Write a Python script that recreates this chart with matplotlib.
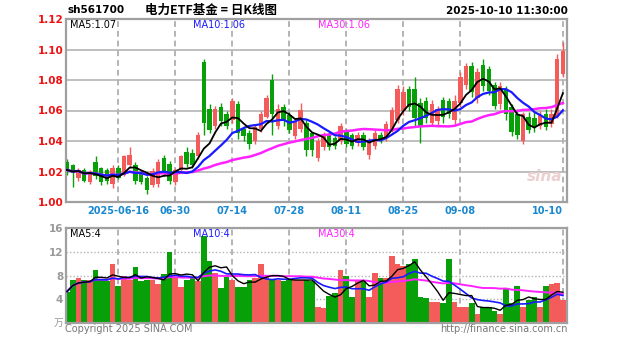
import matplotlib
matplotlib.use("Agg")
import matplotlib.pyplot as plt
import numpy as np
import pandas as pd

plt.rcParams['font.family'] = ['DejaVu Sans']

# ---------------- data ----------------
opens = [1.026, 1.024, 1.016, 1.021, 1.013, 1.026, 1.022, 1.021, 1.012, 1.022,
         1.018, 1.024, 1.024, 1.020, 1.016, 1.011, 1.012, 1.029, 1.025, 1.013,
         1.021, 1.033, 1.032, 1.030, 1.092, 1.061, 1.050, 1.062, 1.058, 1.054,
         1.064, 1.048, 1.045, 1.040, 1.048, 1.056, 1.080, 1.050, 1.062, 1.057,
         1.043, 1.048, 1.052, 1.045, 1.029, 1.036, 1.044, 1.042, 1.040, 1.046,
         1.044, 1.039, 1.044, 1.031, 1.037, 1.044, 1.042, 1.048, 1.054, 1.060,
         1.074, 1.074, 1.065, 1.066, 1.052, 1.053, 1.067, 1.066, 1.054, 1.065,
         1.077, 1.089, 1.068, 1.090, 1.087, 1.077, 1.064, 1.074, 1.062, 1.058,
         1.040, 1.056, 1.055, 1.050, 1.058, 1.051, 1.056, 1.084]
closes = [1.021, 1.019, 1.021, 1.014, 1.020, 1.017, 1.013, 1.014, 1.022, 1.016,
          1.030, 1.031, 1.014, 1.013, 1.008, 1.020, 1.026, 1.019, 1.014, 1.021,
          1.030, 1.025, 1.024, 1.044, 1.052, 1.047, 1.061, 1.053, 1.050, 1.066,
          1.045, 1.043, 1.038, 1.049, 1.058, 1.068, 1.058, 1.061, 1.053, 1.047,
          1.053, 1.060, 1.034, 1.034, 1.040, 1.044, 1.036, 1.037, 1.050, 1.038,
          1.037, 1.044, 1.036, 1.040, 1.045, 1.041, 1.051, 1.060, 1.074, 1.072,
          1.062, 1.055, 1.050, 1.055, 1.064, 1.061, 1.056, 1.058, 1.066, 1.082,
          1.089, 1.072, 1.085, 1.076, 1.073, 1.063, 1.076, 1.058, 1.046, 1.044,
          1.058, 1.047, 1.049, 1.057, 1.049, 1.058, 1.094, 1.099]
highs = [1.028, 1.025, 1.022, 1.022, 1.021, 1.030, 1.023, 1.022, 1.024, 1.024,
         1.031, 1.036, 1.026, 1.021, 1.017, 1.022, 1.028, 1.031, 1.027, 1.022,
         1.031, 1.036, 1.035, 1.046, 1.094, 1.064, 1.063, 1.065, 1.060, 1.068,
         1.066, 1.050, 1.047, 1.051, 1.060, 1.070, 1.084, 1.064, 1.064, 1.059,
         1.055, 1.065, 1.054, 1.046, 1.042, 1.046, 1.046, 1.043, 1.052, 1.048,
         1.045, 1.046, 1.046, 1.042, 1.047, 1.046, 1.053, 1.062, 1.077, 1.076,
         1.076, 1.082, 1.068, 1.069, 1.067, 1.063, 1.069, 1.068, 1.070, 1.085,
         1.091, 1.092, 1.088, 1.094, 1.089, 1.079, 1.079, 1.076, 1.064, 1.061,
         1.059, 1.059, 1.059, 1.060, 1.061, 1.061, 1.097, 1.105]
lows = [1.018, 1.010, 1.014, 1.013, 1.012, 1.015, 1.011, 1.012, 1.009, 1.015,
        1.017, 1.022, 1.012, 1.012, 1.005, 1.010, 1.010, 1.017, 1.012, 1.011,
        1.020, 1.023, 1.022, 1.028, 1.044, 1.045, 1.048, 1.050, 1.048, 1.052,
        1.041, 1.040, 1.035, 1.038, 1.046, 1.055, 1.044, 1.048, 1.050, 1.045,
        1.041, 1.046, 1.030, 1.030, 1.027, 1.034, 1.034, 1.035, 1.038, 1.036,
        1.035, 1.037, 1.034, 1.028, 1.035, 1.039, 1.040, 1.046, 1.052, 1.057,
        1.060, 1.050, 1.039, 1.052, 1.050, 1.050, 1.052, 1.055, 1.050, 1.062,
        1.074, 1.069, 1.065, 1.073, 1.070, 1.061, 1.061, 1.054, 1.043, 1.041,
        1.038, 1.045, 1.046, 1.048, 1.047, 1.049, 1.055, 1.082]
volumes = [5.3, 7.3, 7.6, 7.3, 7.3, 9.0, 7.3, 7.0, 9.9, 6.2,
           7.9, 7.3, 9.4, 7.0, 7.3, 7.3, 6.5, 8.2, 12.0, 7.6,
           6.1, 7.3, 7.6, 7.0, 14.6, 10.5, 8.5, 5.9, 7.7, 7.3,
           6.1, 6.1, 7.3, 7.6, 9.9, 7.8, 7.3, 7.3, 7.0, 7.3,
           7.3, 7.3, 7.3, 7.0, 2.7, 2.6, 4.5, 5.0, 9.0, 7.9,
           4.4, 7.3, 7.3, 4.4, 8.5, 7.6, 7.6, 11.3, 9.9, 9.6,
           9.9, 10.8, 4.4, 4.2, 3.6, 3.6, 3.3, 10.8, 3.6, 2.7,
           2.7, 3.3, 1.6, 2.7, 2.7, 2.1, 1.6, 5.9, 3.3, 6.2,
           2.7, 3.8, 4.4, 2.7, 6.2, 6.5, 6.7, 3.8]

tick_idx = [9, 19, 29, 39, 49, 59, 69, 87]
tick_labels = ["2025-06-16", "06-30", "07-14", "07-28", "08-11", "08-25", "09-08", "10-10"]
price_ticks = [1.00, 1.02, 1.04, 1.06, 1.08, 1.10, 1.12]
vol_ticks = [4, 8, 12, 16]

# ---------------- styling ----------------
RED = '#f45b5b'
GREEN = '#08a008'
GRID = '#b4b4b4'
FRAME = '#a0a0a0'
W, H = 627, 342

fig = plt.figure(figsize=(W / 100, H / 100), dpi=100)
fig.patch.set_facecolor('white')

def fx(px):
    return px / W

def fy(py):
    return 1 - py / H

ax = fig.add_axes([fx(66), fy(202), fx(567) - fx(66), fy(19) - fy(202)])
axv = fig.add_axes([fx(66), fy(323), fx(567) - fx(66), fy(228) - fy(323)])

n = len(closes)
x = np.arange(n)
o = np.array(opens); c = np.array(closes); hi = np.array(highs); lo = np.array(lows)
up = c >= o
colors = np.where(up, RED, GREEN)

# MA lines
cs = pd.Series(c)
ma5 = cs.rolling(5, min_periods=1).mean()
ma10 = cs.rolling(10, min_periods=1).mean()
ma30 = cs.rolling(30, min_periods=1).mean()
vs = pd.Series(volumes)
vma5 = vs.rolling(5, min_periods=1).mean()
vma10 = vs.rolling(10, min_periods=1).mean()
vma30 = vs.rolling(30, min_periods=1).mean()

xlim = (-0.18, 87.72)
for a in (ax, axv):
    a.set_xlim(*xlim)
    for s in a.spines.values():
        s.set_color(FRAME)
        s.set_linewidth(1.6)
    a.tick_params(length=0)
    a.set_xticks([])
    for t in tick_idx:
        a.axvline(t, color=GRID, lw=1.4, ls=(0, (3, 2)), zorder=0)

# main chart
ax.set_ylim(1.00, 1.12)
for p in price_ticks:
    ax.axhline(p, color=GRID, lw=1.2, zorder=0)
ax.set_yticks(price_ticks)
ax.set_yticklabels([f"{p:.2f}" for p in price_ticks], color='#ee1111',
                   fontsize=7.5, fontweight='bold')
ax.tick_params(axis='y', pad=2)

ax.vlines(x, lo, hi, colors=colors, lw=1.0, zorder=2)
body_bottom = np.minimum(o, c)
body_h = np.maximum(np.abs(c - o), 0.0006)
ax.bar(x, body_h, bottom=body_bottom, width=0.78, color=colors, zorder=3, linewidth=0)

ax.plot(x, ma30, color='#ff22ff', lw=1.8, zorder=4)
ax.plot(x, ma10, color='#1a1aff', lw=1.6, zorder=5)
ax.plot(x, ma5, color='black', lw=1.3, zorder=6)

# sina watermark (axes fraction)
ax.text(0.955, 0.14, "sina", transform=ax.transAxes, color='#ecd0d0', fontsize=11,
        fontstyle='italic', fontweight='bold', ha='center', va='center', zorder=1)

# volume chart
axv.set_ylim(0, 16)
for v in vol_ticks:
    axv.axhline(v, color=GRID, lw=1.0, ls=(0, (1, 1.5)), zorder=0)
axv.set_yticks(vol_ticks)
axv.set_yticklabels([str(v) for v in vol_ticks], color='#999999', fontsize=7.5,
                    fontweight='bold')
axv.tick_params(axis='y', pad=2)
axv.bar(x, volumes, width=1.0, color=colors, zorder=2, linewidth=0)
axv.plot(x, vma30, color='#ff22ff', lw=1.4, zorder=4)
axv.plot(x, vma10, color='#1a1aff', lw=1.2, zorder=5)
axv.plot(x, vma5, color='black', lw=1.0, zorder=6)

# date labels between panels
for t, lab in zip(tick_idx, tick_labels):
    px = 67 + 5.7 * t
    if lab == "10-10":
        px = 547
    fig.text(fx(px), fy(211), lab, color='#1a88d0', fontsize=7, fontweight='bold',
             ha='center', va='center')

fig.text(fx(63), fy(323), "万", color='#999999', fontsize=7,
         family=['Noto Sans CJK SC', 'DejaVu Sans'], ha='right', va='center')

# header texts
fig.text(fx(67), fy(10), "sh561700", color='black', fontsize=7.5, fontweight='bold',
         ha='left', va='center')
fig.text(fx(211), fy(10), "电力ETF基金 = 日K线图", color='black', fontsize=9,
         fontweight='bold', family=['Noto Sans CJK SC', 'DejaVu Sans'],
         ha='center', va='center')
fig.text(fx(568), fy(11), "2025-10-10 11:30:00", color='black', fontsize=7.5,
         fontweight='bold', ha='right', va='center')

# MA legends
fig.text(fx(70), fy(25), f"MA5:{ma5.iloc[-1]:.2f}", color='black', fontsize=7,
         ha='left', va='center')
fig.text(fx(193), fy(25), f"MA10:{ma10.iloc[-1]:.2f}", color='#1a1aff', fontsize=7,
         ha='left', va='center')
fig.text(fx(318), fy(25), f"MA30:{ma30.iloc[-1]:.2f}", color='#ff22ff', fontsize=7,
         ha='left', va='center')
fig.text(fx(70), fy(234), "MA5:4", color='black', fontsize=7, ha='left', va='center')
fig.text(fx(193), fy(234), "MA10:4", color='#1a1aff', fontsize=7, ha='left', va='center')
fig.text(fx(318), fy(234), "MA30:4", color='#ff22ff', fontsize=7, ha='left', va='center')

# footer
fig.text(fx(65), fy(329), "Copyright 2025 SINA.COM", color='#777777', fontsize=7,
         ha='left', va='center')
fig.text(fx(568), fy(329), "http://finance.sina.com.cn", color='#777777', fontsize=7,
         ha='right', va='center')

fig.savefig("out.png", dpi=100)
